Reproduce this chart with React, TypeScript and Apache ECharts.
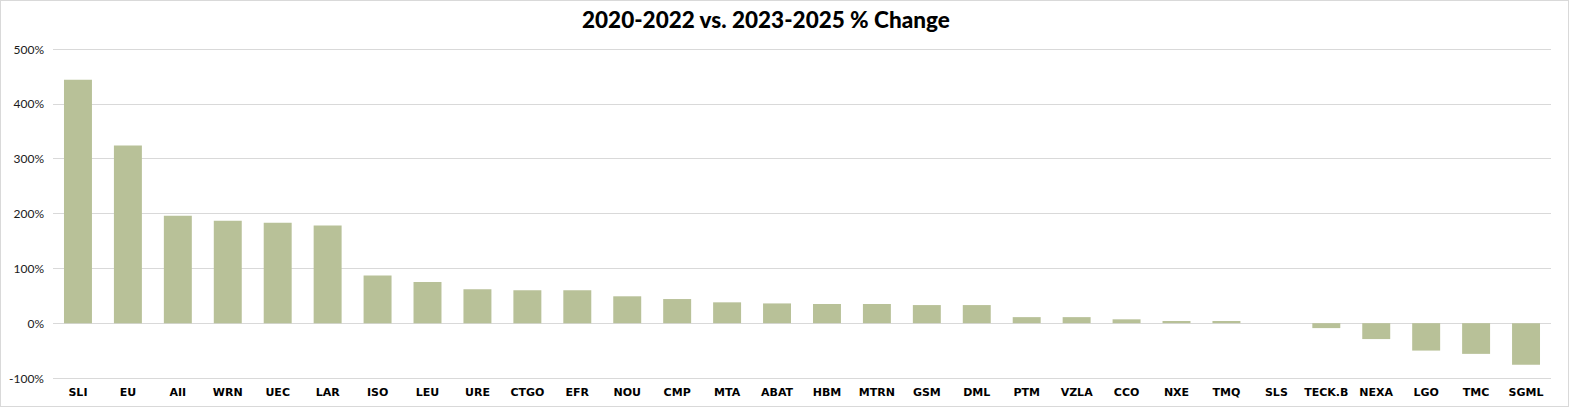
import React, { useEffect, useRef } from 'react';
import * as echarts from 'echarts';

const tickers = [
  'SLI', 'EU', 'AII', 'WRN', 'UEC', 'LAR', 'ISO', 'LEU', 'URE', 'CTGO',
  'EFR', 'NOU', 'CMP', 'MTA', 'ABAT', 'HBM', 'MTRN', 'GSM', 'DML', 'PTM',
  'VZLA', 'CCO', 'NXE', 'TMQ', 'SLS', 'TECK.B', 'NEXA', 'LGO', 'TMC', 'SGML'
];

// % change, 2020-2022 vs. 2023-2025
const pctChange = [
  444, 324, 196, 187, 183, 178, 87, 75, 62, 60,
  60, 49, 44, 38, 36, 35, 35, 33, 33, 11,
  11, 7, 4, 4, 0, -9, -29, -50, -56, -76
];

const yTicks = { min: -100, max: 500, step: 100 };

const BAR_COLOR = '#b8c198';
const GRID_COLOR = '#d9d9d9';

const App: React.FC = () => {
  const chartRef = useRef<HTMLDivElement>(null);

  useEffect(() => {
    if (!chartRef.current) return;
    const chart = echarts.init(chartRef.current, null, { renderer: 'svg' });

    const option: echarts.EChartsOption = {
      animation: false,
      backgroundColor: '#ffffff',
      title: {
        text: '2020-2022 vs. 2023-2025 % Change',
        // the original title sits a little left of centre
        left: 576,
        top: 2,
        textStyle: {
          fontFamily: 'Lato, sans-serif',
          fontSize: 22.5,
          fontWeight: 900,
          color: '#000000'
        }
      },
      grid: {
        left: 52,
        right: 17,
        top: 48,
        bottom: 28,
        containLabel: false
      },
      xAxis: {
        type: 'category',
        data: tickers,
        position: 'bottom',
        axisLine: { show: false },
        axisTick: { show: false },
        axisLabel: {
          interval: 0,
          margin: 9,
          fontFamily: 'DejaVu Sans, sans-serif',
          fontSize: 11,
          fontWeight: 'bold',
          color: '#000000'
        }
      },
      yAxis: {
        type: 'value',
        min: yTicks.min,
        max: yTicks.max,
        interval: yTicks.step,
        axisLine: { show: false },
        axisTick: { show: false },
        splitLine: { lineStyle: { color: GRID_COLOR, width: 1 } },
        axisLabel: {
          margin: 9,
          fontFamily: 'Lato, sans-serif',
          fontSize: 12,
          color: '#1a1a1a',
          formatter: (v: number) => `${v}%`
        }
      },
      series: [
        {
          type: 'bar',
          data: pctChange,
          barCategoryGap: '44%',
          itemStyle: { color: BAR_COLOR }
        }
      ]
    };

    chart.setOption(option);

    return () => {
      chart.dispose();
    };
  }, []);

  return (
    <div
      ref={chartRef}
      style={{
        position: 'absolute',
        left: 0,
        top: 0,
        width: 1569,
        height: 407,
        boxSizing: 'border-box',
        border: `1px solid ${GRID_COLOR}`
      }}
    />
  );
};

export default App;
